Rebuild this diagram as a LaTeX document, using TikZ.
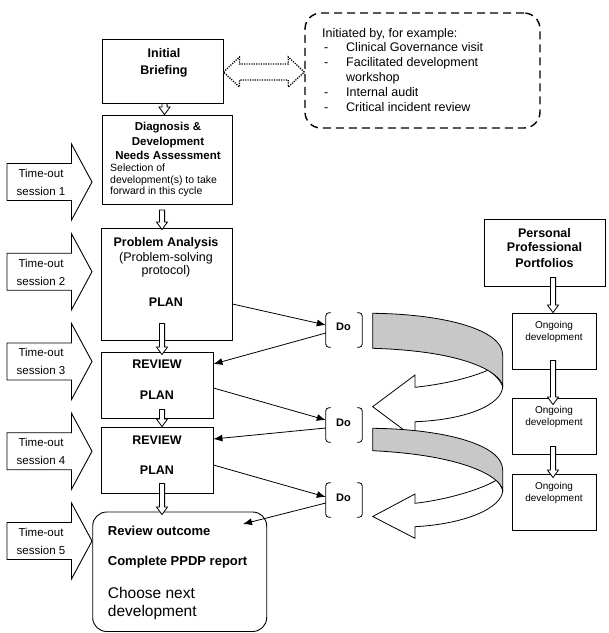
\documentclass[tikz,border=0pt]{standalone}
\usepackage{fontspec}
\setmainfont{Liberation Sans}
\usetikzlibrary{arrows.meta,calc}
\definecolor{bandgray}{RGB}{200,200,200}
\newcommand\fs[2]{\fontsize{#1}{#2}\selectfont}
\tikzset{
  box/.style={draw, line width=0.9pt, inner sep=0pt, fill=white},
  txt/.style={inner sep=0pt, anchor=base},
  txtl/.style={inner sep=0pt, anchor=base west},
  thinarrow/.style={line width=0.8pt, -{Latex[length=9pt,width=7pt]}},
  hollow/.style={draw, line width=0.8pt, fill=white, line join=miter},
  timeout/.style={draw, line width=0.9pt, fill=white},
  band/.style={draw, line width=0.8pt, fill=bandgray},
  bandw/.style={draw, line width=0.8pt, fill=white},
  brk/.style={line width=0.8pt, rounded corners=3pt},
}
\newcommand\hollowarrow[2]{\path[hollow] let \p1=#1, \p2=#2 in
  ({\x1-2.6pt},\y1) -- ({\x1-2.6pt},{\y2+7.5pt}) -- ({\x1-5.5pt},{\y2+7.5pt}) -- (\x1,\y2)
  -- ({\x1+5.5pt},{\y2+7.5pt}) -- ({\x1+2.6pt},{\y2+7.5pt}) -- ({\x1+2.6pt},\y1) -- cycle;}
\newcommand\timeoutarrow[1]{\path[timeout] (7,{#1-18.5}) -- (71.5,{#1-18.5}) -- (71.5,{#1-38}) -- (92,#1)
  -- (71.5,{#1+38}) -- (71.5,{#1+18.5}) -- (7,{#1+18.5}) -- cycle;}
\newcommand\dobrackets[1]{%
  \draw[brk] ([xshift=5pt]#1.north west) -- (#1.north west) -- (#1.south west) -- ([xshift=5pt]#1.south west);
  \draw[brk] ([xshift=-5pt]#1.north east) -- (#1.north east) -- (#1.south east) -- ([xshift=-5pt]#1.south east);}
\begin{document}
\begin{tikzpicture}[x=1pt,y=-1pt]
\useasboundingbox (0,0) rectangle (609,633);

% ---------- boxes ----------
\node[box, minimum width=121pt, minimum height=64pt] (ib) at (162.5,71) {};
\node[draw, line width=1.4pt, dash pattern=on 8pt off 5pt, rounded corners=16pt, inner sep=0pt,
      minimum width=235pt, minimum height=115pt] (note) at (422.5,70.5) {};
\node[box, minimum width=130pt, minimum height=89.5pt] (diag) at (167,159.75) {};
\node[box, minimum width=131pt, minimum height=112pt] (pa) at (166.5,284) {};
\node[box, minimum width=112pt, minimum height=66pt] (rev1) at (157,385) {};
\node[box, minimum width=112pt, minimum height=66pt] (rev2) at (157,460) {};
\node[box, rounded corners=14pt, minimum width=174pt, minimum height=119.5pt] (out) at (179.7,571.75) {};
\node[box, minimum width=121pt, minimum height=67pt] (ppp) at (544.5,252.5) {};
\node[box, minimum width=84pt, minimum height=56pt] (on1) at (554,341) {};
\node[box, minimum width=84pt, minimum height=56pt] (on2) at (554,426) {};
\node[box, minimum width=84pt, minimum height=56pt] (on3) at (554,502) {};

% ---------- Do brackets ----------
\node[inner sep=0pt, minimum width=36pt, minimum height=34pt] (do1) at (344,330) {};
\node[inner sep=0pt, minimum width=36pt, minimum height=34pt] (do2) at (344,425) {};
\node[inner sep=0pt, minimum width=36pt, minimum height=34pt] (do3) at (344,500) {};
\dobrackets{do1}
\dobrackets{do2}
\dobrackets{do3}

% ---------- time-out arrows ----------
\timeoutarrow{182}
\timeoutarrow{271.75}
\timeoutarrow{361.5}
\timeoutarrow{451.25}
\timeoutarrow{541}

% ---------- dotted double arrow ----------
\path[draw, line width=1.3pt, dash pattern=on 1.2pt off 1.2pt, fill=white]
  let \p1=(ib.east), \p2=(note.west) in
  (\x1,{\y1-1pt}) -- ({\x1+16pt},{\y1+14pt}) -- ({\x1+16pt},{\y1+7pt}) -- ({\x2-16pt},{\y1+7pt})
  -- ({\x2-16pt},{\y1+14pt}) -- (\x2,{\y1-1pt}) -- ({\x2-16pt},{\y1-16pt}) -- ({\x2-16pt},{\y1-9pt})
  -- ({\x1+16pt},{\y1-9pt}) -- ({\x1+16pt},{\y1-16pt}) -- cycle;

% ---------- hollow down arrows ----------
\hollowarrow{([xshift=2pt]ib.south)}{(diag.north)}
\hollowarrow{([xshift=-5pt,yshift=-5pt]diag.south)}{([yshift=-2pt]pa.north)}
\hollowarrow{([xshift=-4.5pt,yshift=17pt]pa.south)}{([yshift=-3pt]rev1.north)}
\hollowarrow{([xshift=5pt,yshift=9pt]rev1.south)}{(rev2.north)}
\hollowarrow{([xshift=5pt,yshift=10pt]rev2.south)}{([yshift=-3pt]out.north)}
\hollowarrow{([xshift=8.5pt,yshift=9pt]ppp.south)}{(on1.north)}
\hollowarrow{([xshift=-1pt,yshift=9pt]on1.south)}{([yshift=-7pt]on2.north)}
\hollowarrow{([xshift=-1pt,yshift=8pt]on2.south)}{([yshift=-4pt]on3.north)}

% ---------- thin arrows ----------
\coordinate (outpt) at (243,524);
\draw[thinarrow] ([yshift=-20pt]pa.east) -- ([yshift=5pt]do1.west);
\draw[thinarrow] ([yshift=-3pt]do1.west) -- ([yshift=21pt]rev1.east);
\draw[thinarrow] ([yshift=-3pt]rev1.east) -- ([yshift=5pt]do2.west);
\draw[thinarrow] ([yshift=-3pt]do2.west) -- ([yshift=21pt]rev2.east);
\draw[thinarrow] ([yshift=-5pt]rev2.east) -- ([yshift=3pt]do3.west);
\draw[thinarrow] ([yshift=-3pt]do3.west) -- (outpt);

% ---------- curved band arrows ----------
\path[bandw] (502.7,386) .. controls (502.7,405) and (465,420) .. (415,421.7) -- (415,438.3)
  -- (372.7,406.7) -- (415,375) -- (415,387.3) .. controls (445,384) and (470,378) .. (488.3,370)
  .. controls (495,375) and (500,380) .. (502.7,386) -- cycle;
\path[band] (372.7,313.3) .. controls (442,314) and (502.7,329) .. (502.7,355) -- (502.7,386)
  .. controls (500,372) and (465,351) .. (372.7,348.3) -- cycle;
\path[bandw] (502.7,490) .. controls (502.7,508) and (465,524) .. (415,526.7) -- (415,538.3)
  -- (372.7,516.5) -- (415,494) -- (415,503.3) .. controls (445,500) and (480,490) .. (496.7,480)
  .. controls (499,483) and (501,486) .. (502.7,490) -- cycle;
\path[band] (372.7,428.3) .. controls (442,429) and (502.7,444) .. (502.7,470) -- (502.7,490)
  .. controls (500,476) and (462,455) .. (372.7,450.7) -- cycle;

% ---------- texts ----------
\begin{scope}[every node/.append style={font=\fs{12.5}{15}}]
\node[txtl] (n0) at (322,37.8) {Initiated by, for example:};
\node[txtl] (d1) at (324,51.2) {-};
\node[txtl] (n1) at (346,51.2) {Clinical Governance visit};
\node[txtl] (d2) at (324,66.2) {-};
\node[txtl] (n2) at (346,66.2) {Facilitated development};
\node[txtl] (n2b) at (346,81.2) {workshop};
\node[txtl] (d3) at (324,96.2) {-};
\node[txtl] (n3) at (346,96.2) {Internal audit};
\node[txtl] (d4) at (324,111.2) {-};
\node[txtl] (n4) at (346,111.2) {Critical incident review};
\end{scope}

\node[txt, font=\fs{12.5}{15}\bfseries] (ib1) at (164,57.5) {Initial};
\node[txt, font=\fs{12.5}{15}\bfseries] (ib2) at (164,74.5) {Briefing};

\node[txt, font=\fs{11.5}{13}\bfseries] (dg1) at (168,130.8) {Diagnosis \&};
\node[txt, font=\fs{11.5}{13}\bfseries] (dg2) at (168,145.8) {Development};
\node[txt, font=\fs{11.5}{13}\bfseries] (dg3) at (168,159.1) {Needs Assessment};
\node[txtl, font=\fs{10.5}{12}] (dg4) at (110,171.1) {Selection of};
\node[txtl, font=\fs{10.5}{12}] (dg5) at (110,183.1) {development(s) to take};
\node[txtl, font=\fs{10.5}{12}] (dg6) at (110,194.5) {forward in this cycle};

\node[txt, font=\fs{12.5}{15}\bfseries] (pa1) at (166,246.2) {Problem Analysis};
\node[txt, font=\fs{12.5}{15}] (pa2) at (166,261.2) {(Problem-solving};
\node[txt, font=\fs{12.5}{15}] (pa3) at (166,274.5) {protocol)};
\node[txt, font=\fs{12.5}{15}\bfseries] (pa4) at (166,306.2) {PLAN};

\node[txt, font=\fs{12.5}{15}\bfseries] (r1a) at (157,368.5) {REVIEW};
\node[txt, font=\fs{12.5}{15}\bfseries] (r1b) at (157,399.5) {PLAN};
\node[txt, font=\fs{12.5}{15}\bfseries] (r2a) at (157,444.5) {REVIEW};
\node[txt, font=\fs{12.5}{15}\bfseries] (r2b) at (157,474.5) {PLAN};

\node[txtl, font=\fs{13}{15}\bfseries] (o1) at (107.7,535.4) {Review outcome};
\node[txtl, font=\fs{13}{15}\bfseries] (o2) at (107.7,565.4) {Complete PPDP report};
\node[txtl, font=\fs{15.5}{18}] (o3) at (107.7,598.9) {Choose next};
\node[txtl, font=\fs{15.5}{18}] (o4) at (107.7,616.3) {development};

\node[txt, font=\fs{12.5}{15}\bfseries] (pp1) at (544.5,237.5) {Personal};
\node[txt, font=\fs{12.5}{15}\bfseries] (pp2) at (544.5,251.5) {Professional};
\node[txt, font=\fs{12.5}{15}\bfseries] (pp3) at (544.5,267.5) {Portfolios};

\node[txt, font=\fs{10}{12}] (g1a) at (554,328.6) {Ongoing};
\node[txt, font=\fs{10}{12}] (g1b) at (554,340) {development};
\node[txt, font=\fs{10}{12}] (g2a) at (554,413.6) {Ongoing};
\node[txt, font=\fs{10}{12}] (g2b) at (554,425) {development};
\node[txt, font=\fs{10}{12}] (g3a) at (554,489.6) {Ongoing};
\node[txt, font=\fs{10}{12}] (g3b) at (554,501) {development};

\node[txt, font=\fs{11}{13}\bfseries] (dot1) at (343.5,330.7) {Do};
\node[txt, font=\fs{11}{13}\bfseries] (dot2) at (343.5,426.3) {Do};
\node[txt, font=\fs{11}{13}\bfseries] (dot3) at (343.5,501.3) {Do};

\begin{scope}[every node/.append style={font=\fs{11.5}{14}}]
\node[txt] (t1a) at (41,177.4) {Time-out};
\node[txt] (t1b) at (41,195.4) {session 1};
\node[txt] (t2a) at (41,267.15) {Time-out};
\node[txt] (t2b) at (41,285.15) {session 2};
\node[txt] (t3a) at (41,356.9) {Time-out};
\node[txt] (t3b) at (41,374.9) {session 3};
\node[txt] (t4a) at (41,446.65) {Time-out};
\node[txt] (t4b) at (41,464.65) {session 4};
\node[txt] (t5a) at (41,536.4) {Time-out};
\node[txt] (t5b) at (41,554.4) {session 5};
\end{scope}
\end{tikzpicture}
\end{document}
